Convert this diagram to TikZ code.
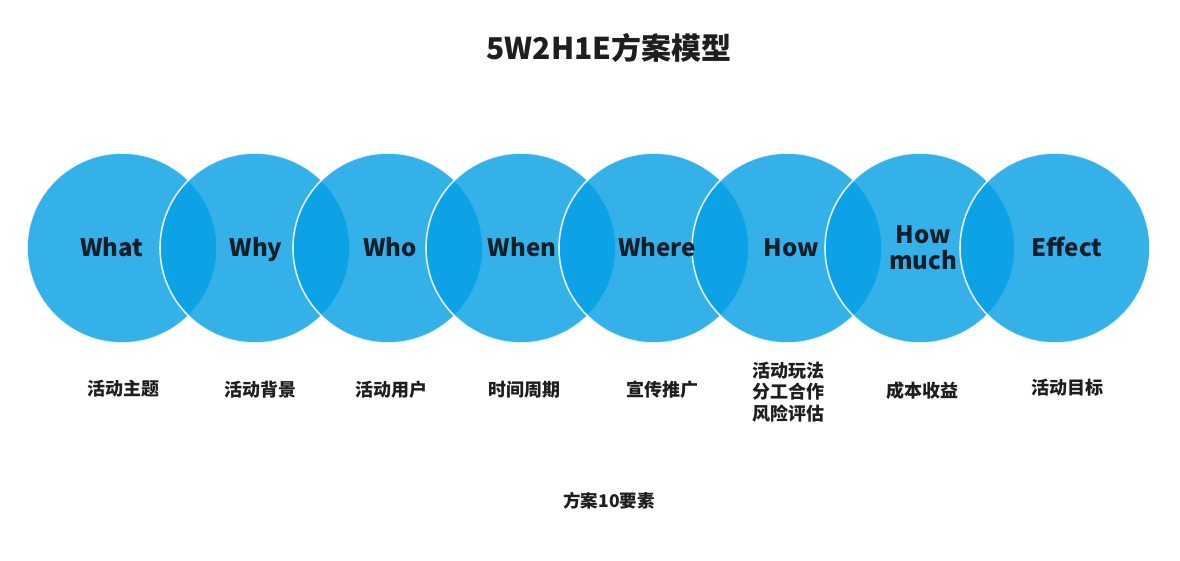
\documentclass[tikz,border=0pt]{standalone}
\usepackage{fontspec}
\setmainfont{Noto Sans CJK SC}
\definecolor{bubblefill}{RGB}{3,158,229}
\definecolor{bubbleink}{RGB}{20,30,40}
\definecolor{noteink}{RGB}{30,30,30}
\tikzset{
  bubble/.style={circle, minimum size=190pt, inner sep=0pt, fill=bubblefill, fill opacity=0.8, draw=white, draw opacity=0.85, line width=1.6pt},
  bubbletext/.style={text=bubbleink, font=\bfseries\fontsize{24}{26}\selectfont, align=center, inner sep=0pt},
  notetext/.style={text=noteink, font=\bfseries\fontsize{18}{21.5}\selectfont, align=center, inner sep=0pt},
}

\begin{document}
\begin{tikzpicture}[x=1pt,y=-1pt]
	\useasboundingbox[fill=white] (0,0) rectangle (1180,561);
	% title
	\node[text=noteink, font=\bfseries\fontsize{30}{34}\selectfont, inner sep=0pt] (title) at (609,48) {5W2H1E方案模型};
	% circles
	\node[bubble] (what) at (122,248) {};
	\node[bubble] (why) at (255,248) {};
	\node[bubble] (who) at (388,248) {};
	\node[bubble] (when) at (521,248) {};
	\node[bubble] (where) at (654,248) {};
	\node[bubble] (how) at (787,248) {};
	\node[bubble] (howmuch) at (920,248) {};
	\node[bubble] (effect) at (1055,248) {};
	% words inside
	\node[bubbletext, anchor=base] (whatword) at (112,257) {What};
	\node[bubbletext, anchor=base] (whyword) at (256,257) {Why};
	\node[bubbletext, anchor=base] (whoword) at (390,257) {Who};
	\node[bubbletext, anchor=base] (whenword) at (522,257) {When};
	\node[bubbletext, anchor=base] (whereword) at (657,257) {Where};
	\node[bubbletext, anchor=base] (howword) at (791,257) {How};
	\node[bubbletext] (howmuchword) at (923,248) {How\\much};
	\node[bubbletext, anchor=base] (effectword) at (1067,257) {Effect};
	% notes below
	\node[notetext] (whatnote) at (123,389) {活动主题};
	\node[notetext] (whynote) at (260,390) {活动背景};
	\node[notetext] (whonote) at (391,390) {活动用户};
	\node[notetext] (whennote) at (524,390) {时间周期};
	\node[notetext] (wherenote) at (662,390) {宣传推广};
	\node[notetext] (hownote) at (788,392) {活动玩法\\分工合作\\风险评估};
	\node[notetext] (howmuchnote) at (922,391) {成本收益};
	\node[notetext] (effectnote) at (1067,388) {活动目标};
	% footer
	\node[notetext, font=\bfseries\fontsize{17.5}{20}\selectfont] (footer) at (609,501) {方案10要素};
\end{tikzpicture}
\end{document}
